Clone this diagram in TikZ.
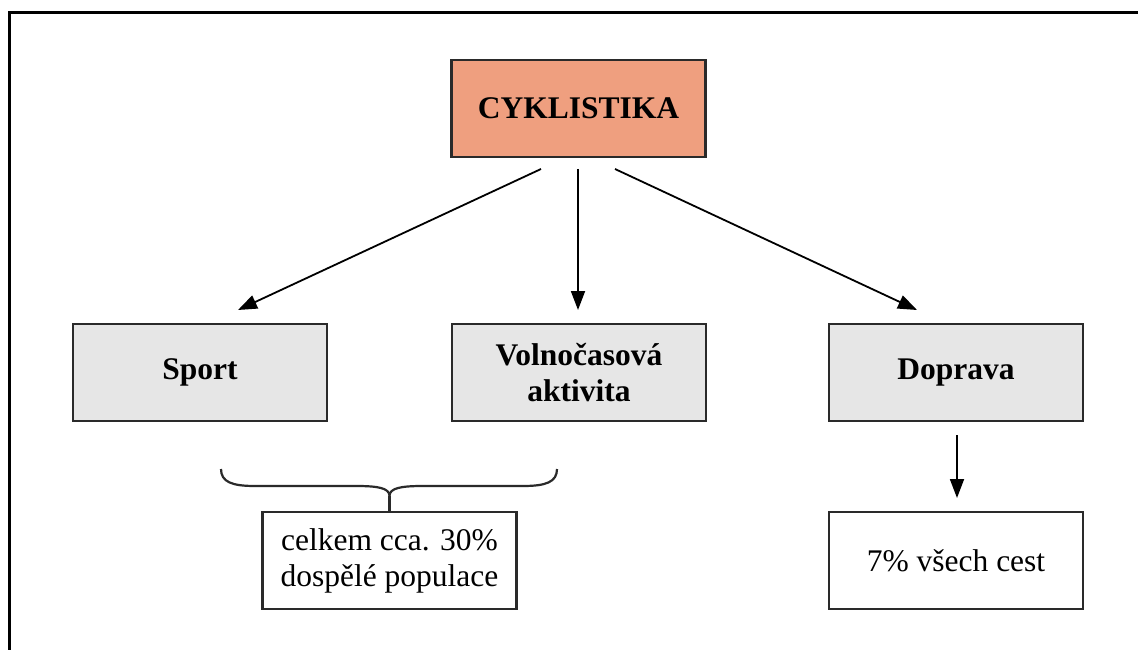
\documentclass[tikz,border=0pt]{standalone}
\usepackage{fontspec}
\setmainfont{Liberation Serif}
\usetikzlibrary{arrows.meta}
\definecolor{salmon}{HTML}{EF9F7F}
\definecolor{boxgray}{HTML}{E6E6E6}
\definecolor{edge}{HTML}{2A2A2A}
\begin{document}
\begin{tikzpicture}[x=1pt,y=-1pt,
  txt/.style={font=\fontsize{31.5}{36}\selectfont, align=center, inner sep=0pt},
  card/.style={txt, draw=edge, line width=2.6pt, minimum width=254pt, minimum height=97pt},
  headbox/.style={card, fill=salmon, font=\fontsize{31.5}{36}\selectfont\bfseries},
  catbox/.style={card, fill=boxgray, font=\fontsize{31.5}{36}\selectfont\bfseries},
  notebox/.style={card, fill=white},
  link/.style={line width=1.8pt, -{Triangle[length=19pt,width=14pt]}}
]
\useasboundingbox (0,0) rectangle (1138,650);
\fill[white] (0,0) rectangle (1138,650);

% page frame: left and top rules
\draw[line width=2.6pt] (9.3,650) -- (9.3,12.3) -- (1138,12.3);

% nodes
\node[headbox] (cyk) at (578.5,108.5) {CYKLISTIKA};
\node[catbox] (sport) at (200,372.5) {Sport};
\node[catbox] (volno) at (579,372.5) {Volnočasová\\aktivita};
\node[catbox] (doprava) at (956,372.5) {Doprava};
\node[notebox] (celkem) at (389.5,560.5) {celkem cca. 30\%\\dospělé populace};
\node[notebox] (cesty) at (956,560.5) {7\% všech cest};

% arrow end points
\coordinate (fromL) at (541,169);
\coordinate (fromM) at (578,169);
\coordinate (fromR) at (615,169);
\coordinate (toL) at (238,310);
\coordinate (toM) at (578,310);
\coordinate (toR) at (917,310);
\coordinate (fromD) at (957,435);
\coordinate (toD) at (957,498);

\draw[link] (fromL) -- (toL);
\draw[link] (fromM) -- (toM);
\draw[link] (fromR) -- (toR);
\draw[link] (fromD) -- (toD);

% brace joining Sport and Volnočasová aktivita
\coordinate (braceL) at (221,469);
\coordinate (braceR) at (557,469);
\coordinate (braceTip) at (389.5,496);
\draw[line width=2.2pt, edge]
  (braceL) .. controls (221,482) and (232,486) .. (255,486)
  -- (356,486) .. controls (378,486) and (389.5,488) .. (braceTip)
  .. controls (389.5,488) and (401,486) .. (423,486)
  -- (523,486) .. controls (546,486) and (557,482) .. (braceR);
\draw[line width=2.2pt, edge] (braceTip) -- (celkem.north);
\end{tikzpicture}
\end{document}
